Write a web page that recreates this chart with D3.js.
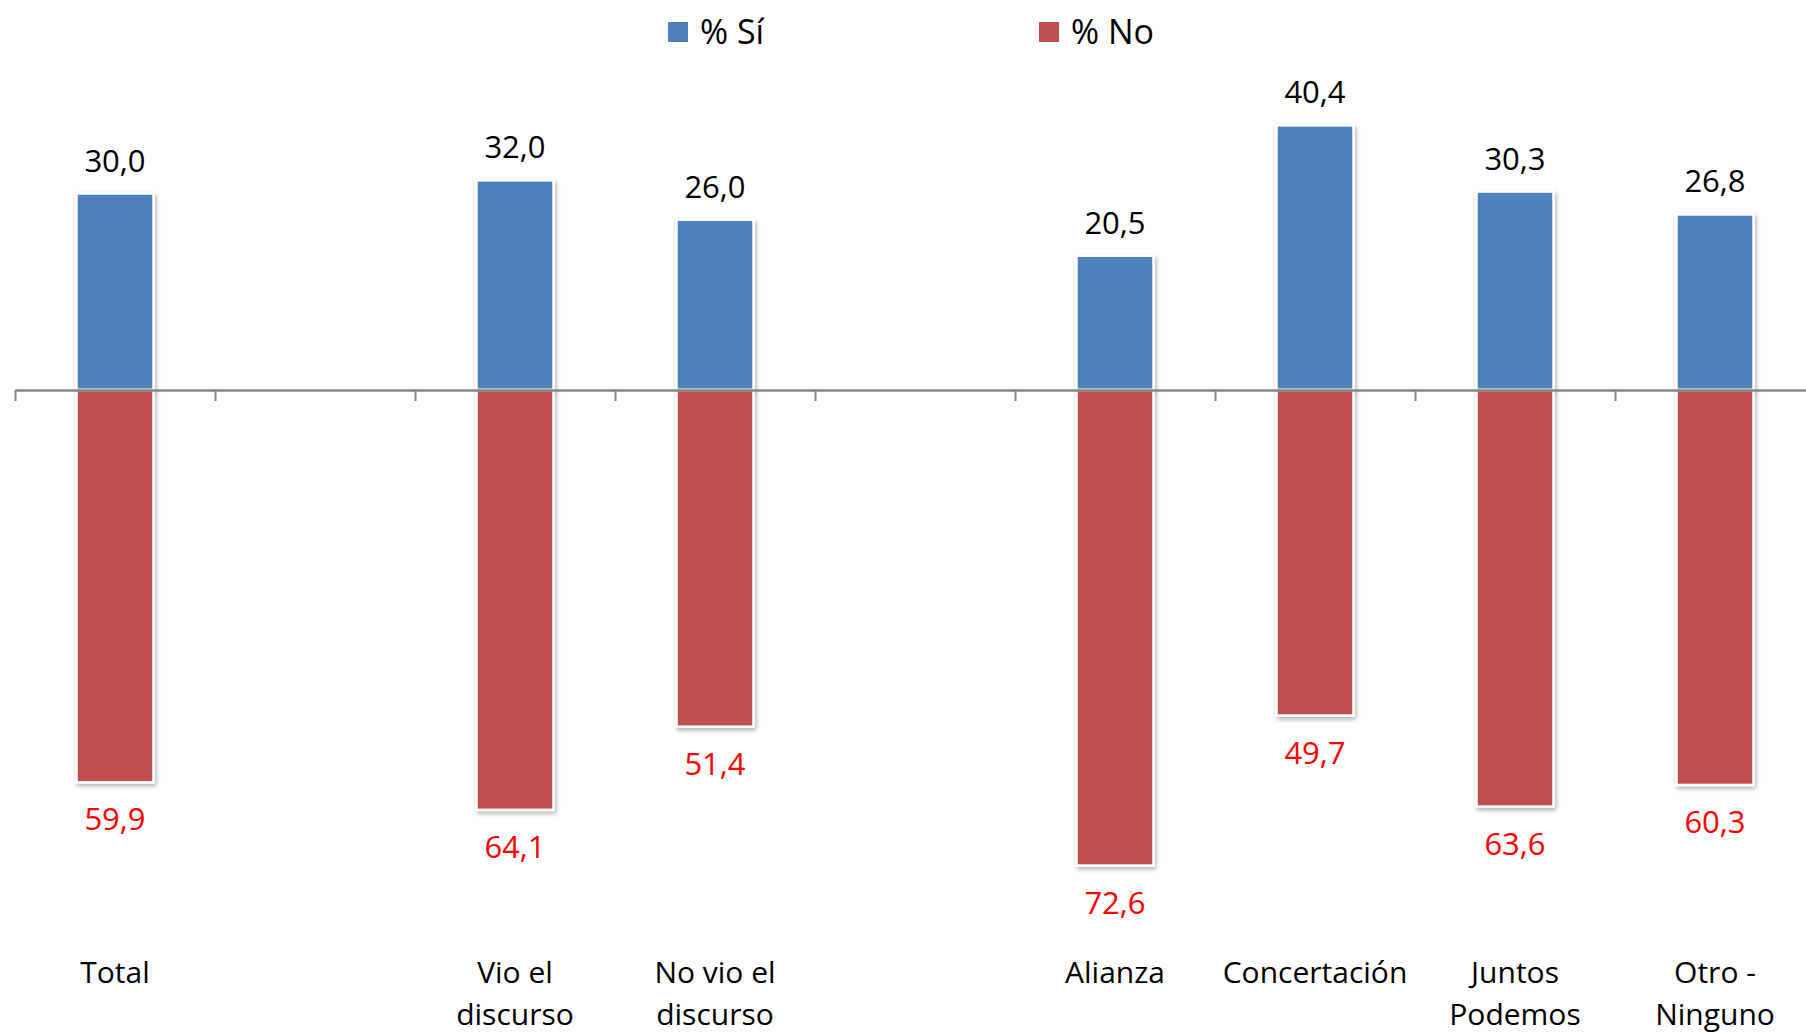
<!DOCTYPE html>
<html>
<head>
<meta charset="utf-8">
<script src="https://cdn.jsdelivr.net/npm/d3@7"></script>
<style>
  body { margin: 0; background: #fff; }
  text { font-family: "Open Sans", "Noto Sans", sans-serif; }
</style>
</head>
<body>
<div id="chart"></div>
<script>

  // categories ("" = empty gap slot)
  var categories = ["Total", "", "Vio el\ndiscurso", "No vio el\ndiscurso", "", "Alianza", "Concertación", "Juntos\nPodemos", "Otro -\nNinguno"];
  var siValues = [30.0, null, 32.0, 26.0, null, 20.5, 40.4, 30.3, 26.8];
  var noValues = [59.9, null, 64.1, 51.4, null, 72.6, 49.7, 63.6, 60.3];
  var seriesNames = ["% Sí", "% No"];
  var seriesColors = ["#4F81BD", "#C0504D"];

  function fmt(v) { return v.toFixed(1).replace(".", ","); }

  createChart();

  function createChart() {
  	var width = 1806;
  	var height = 1032;
  	var x0 = 15, x1 = 1815;
  	var axisY = 390;
  	var pxPerUnit = 6.55;

  	var dataset = categories.map(function(c, i) {
  		return { cat: c, si: siValues[i], no: noValues[i], key: "c" + i };
  	});

  	var xScale = d3.scaleBand()
  		.domain(dataset.map(function(d) { return d.key; }))
  		.range([x0, x1])
  		.paddingInner(0.615)
  		.paddingOuter(0.3075);

  	var edgeScale = d3.scaleLinear()
  		.domain([0, categories.length])
  		.range([x0, x1]);

  	var yScale = d3.scaleLinear()
  		.domain([-80, 50])
  		.range([axisY + 80 * pxPerUnit, axisY - 50 * pxPerUnit]);

  	var svg = d3.select("#chart")
  		.append("svg")
  		.attr("width", width)
  		.attr("height", height);

  	var defs = svg.append("defs");
  	var f = defs.append("filter").attr("id", "shadow")
  		.attr("x", "-20%").attr("y", "-20%").attr("width", "140%").attr("height", "140%");
  	f.append("feDropShadow").attr("dx", 1.5).attr("dy", 2.5).attr("stdDeviation", 2)
  		.attr("flood-color", "#000").attr("flood-opacity", 0.3);

  	var valid = dataset.filter(function(d) { return d.si != null; });

  	// Sí bars (up)
  	svg.selectAll("rect.si")
  		.data(valid)
  		.enter()
  		.append("rect")
  		.attr("class", "si")
  		.attr("x", function(d) { return xScale(d.key); })
  		.attr("y", function(d) { return yScale(d.si); })
  		.attr("width", xScale.bandwidth())
  		.attr("height", function(d) { return yScale(0) - yScale(d.si); })
  		.attr("fill", seriesColors[0])
  		.attr("stroke", "#fff")
  		.attr("stroke-width", 2.5)
  		.attr("filter", "url(#shadow)");

  	// No bars (down)
  	svg.selectAll("rect.no")
  		.data(valid)
  		.enter()
  		.append("rect")
  		.attr("class", "no")
  		.attr("x", function(d) { return xScale(d.key); })
  		.attr("y", yScale(0))
  		.attr("width", xScale.bandwidth())
  		.attr("height", function(d) { return yScale(-d.no) - yScale(0); })
  		.attr("fill", seriesColors[1])
  		.attr("stroke", "#fff")
  		.attr("stroke-width", 2.5)
  		.attr("filter", "url(#shadow)");

  	// axis with ticks at category edges
  	var xaxis = svg.append("g")
  		.attr("transform", "translate(0," + axisY + ")")
  		.call(d3.axisBottom(edgeScale)
  			.ticks(categories.length)
  			.tickSizeInner(11)
  			.tickSizeOuter(0)
  			.tickFormat(""));
  	xaxis.select(".domain").attr("stroke", "#868686").attr("stroke-width", 2.5);
  	xaxis.selectAll(".tick line").attr("stroke", "#868686").attr("stroke-width", 2);

  	// value labels
  	svg.selectAll("text.siLabel")
  		.data(valid)
  		.enter()
  		.append("text")
  		.attr("class", "siLabel")
  		.attr("x", function(d) { return xScale(d.key) + xScale.bandwidth() / 2; })
  		.attr("y", function(d) { return yScale(d.si) - 22; })
  		.attr("text-anchor", "middle")
  		.attr("font-size", 31)
  		.attr("fill", "#000")
  		.text(function(d) { return fmt(d.si); });

  	svg.selectAll("text.noLabel")
  		.data(valid)
  		.enter()
  		.append("text")
  		.attr("class", "noLabel")
  		.attr("x", function(d) { return xScale(d.key) + xScale.bandwidth() / 2; })
  		.attr("y", function(d) { return yScale(-d.no) + 48; })
  		.attr("text-anchor", "middle")
  		.attr("font-size", 31)
  		.attr("fill", "#FF0000")
  		.text(function(d) { return fmt(d.no); });

  	// category labels
  	var catText = svg.selectAll("text.cat")
  		.data(valid)
  		.enter()
  		.append("text")
  		.attr("class", "cat")
  		.attr("x", function(d) { return xScale(d.key) + xScale.bandwidth() / 2; })
  		.attr("y", 983)
  		.attr("text-anchor", "middle")
  		.attr("font-size", 30)
  		.attr("fill", "#000");
  	catText.each(function(d) {
  		var t = d3.select(this);
  		d.cat.split("\n").forEach(function(line, i) {
  			t.append("tspan")
  				.attr("x", xScale(d.key) + xScale.bandwidth() / 2)
  				.attr("dy", i === 0 ? 0 : 42)
  				.text(line);
  		});
  	});

  	// legend
  	var legendX = [668, 1039];
  	var legend = svg.selectAll("g.legend")
  		.data(seriesNames)
  		.enter()
  		.append("g")
  		.attr("class", "legend")
  		.attr("transform", function(d, i) { return "translate(" + legendX[i] + ",22)"; });
  	legend.append("rect")
  		.attr("width", 20)
  		.attr("height", 20)
  		.attr("fill", function(d, i) { return seriesColors[i]; });
  	legend.append("text")
  		.attr("x", 32)
  		.attr("y", 22)
  		.attr("font-size", 34)
  		.attr("fill", "#000")
  		.text(function(d) { return d; });
  }
</script>
</body>
</html>
